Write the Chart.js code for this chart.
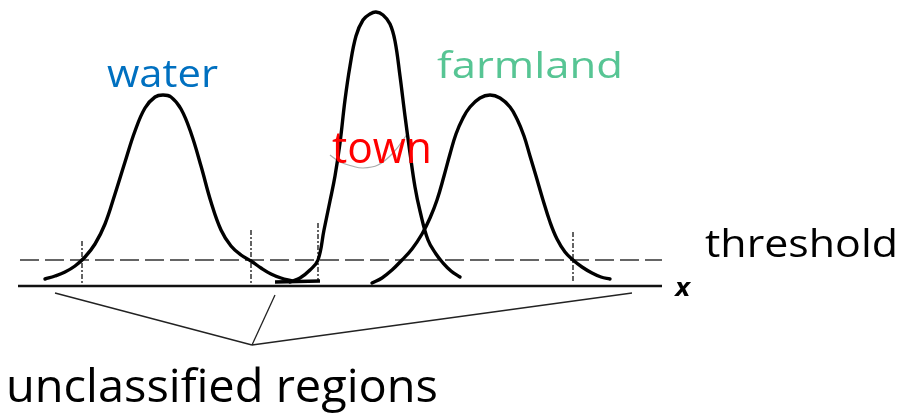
<!DOCTYPE html>
<html>
<head>
<meta charset="utf-8">
<script src="https://cdn.jsdelivr.net/npm/chart.js@4.4.1/dist/chart.umd.min.js"></script>
<style>
  html, body { margin: 0; padding: 0; background: #fff; }
  #wrap { width: 903px; height: 413px; }
</style>
</head>
<body>
<div id="wrap"><canvas id="diagram" width="903" height="413"></canvas></div>
<script>
// x = position along the feature axis, h = height above the x axis
var waterX  = [45, 55, 65, 75, 85, 95, 105, 115, 125, 135, 145, 155, 163, 171, 181, 191, 201, 211, 221, 231, 241, 251, 261, 271, 281, 292];
var waterH  = [7, 10, 14, 20, 29, 42, 62, 92, 124, 155, 178, 189, 191, 189, 177, 153, 120, 84, 56, 40, 31, 25, 18, 12, 8, 5];

var townX   = [290, 300, 310, 318, 324, 330, 335, 340, 345, 350, 356, 363, 370, 376, 383, 390, 395, 400, 405, 410, 415, 420, 428, 436, 443, 451, 460];
var townH   = [4, 8, 16, 26, 56, 85, 110, 143, 186, 220, 250, 266, 272, 274, 271, 262, 245, 210, 170, 133, 99, 75, 46, 32, 23, 15, 9];

var farmX   = [372, 382, 392, 402, 412, 422, 430, 437, 444, 450, 456, 463, 470, 480, 490, 500, 510, 517, 524, 530, 536, 543, 550, 557, 565, 573, 582, 592, 601, 610];
var farmH   = [3, 8, 16, 26, 37, 52, 68, 86, 110, 132, 152, 168, 179, 188, 191, 188, 179, 167, 150, 130, 110, 86, 64, 47, 34, 26, 19, 13, 9, 7];

var flatX   = [275, 320];
var flatH   = [4, 5];

var thresholdX = [20, 662];
var thresholdH = [26, 26];

var axisX = [18, 662];
var axisH = [0, 0];

// dotted cut lines at the threshold crossings
var cutX    = [82, 251, 318, 573];
var cutTop  = [45, 56, 63, 54];
var cutBot  = [2, 2, 5, 3];

// pointers to the unclassified regions
var pointerFrom = [[55, -7], [275, -9], [632, -7]];
var pointerTo   = [252, -59];

// faint arc under "town"
var arcX = [330, 340, 352, 363, 378, 393, 408];
var arcH = [131, 124, 120, 118, 121, 133, 153];

function pts(xs, hs) {
  return xs.map(function (x, i) { return { x: x, y: hs[i] }; });
}

var datasets = [];
function curve(xs, hs) {
  datasets.push({ data: pts(xs, hs), borderColor: '#000', borderWidth: 3.4,
    tension: 0.4, pointRadius: 0, fill: false, borderCapStyle: 'round' });
}
curve(waterX, waterH);
curve(townX, townH);
curve(farmX, farmH);
datasets.push({ data: pts(flatX, flatH), borderColor: '#000', borderWidth: 3.5, pointRadius: 0, tension: 0 });
datasets.push({ data: pts(thresholdX, thresholdH), borderColor: '#333', borderWidth: 1.6,
  borderDash: [19, 6], pointRadius: 0, tension: 0 });
datasets.push({ data: pts(axisX, axisH), borderColor: '#111', borderWidth: 2.5, pointRadius: 0, tension: 0 });
cutX.forEach(function (x, i) {
  datasets.push({ data: [{ x: x, y: cutTop[i] }, { x: x, y: cutBot[i] }], borderColor: '#222',
    borderWidth: 1.4, borderDash: [5, 2, 2, 2], pointRadius: 0, tension: 0 });
});
pointerFrom.forEach(function (p) {
  datasets.push({ data: [{ x: p[0], y: p[1] }, { x: pointerTo[0], y: pointerTo[1] }],
    borderColor: '#222', borderWidth: 1.3, pointRadius: 0, tension: 0 });
});
datasets.push({ data: pts(arcX, arcH), borderColor: '#aaa', borderWidth: 1.2,
  tension: 0.4, pointRadius: 0 });

// labels: text, colour, font size, left x, baseline h, target width
var labels = [
  { text: 'water', color: '#0070C0', size: 38, x: 107, y: 199, w: 111 },
  { text: 'farmland', color: '#57C594', size: 36, x: 437, y: 208, w: 186 },
  { text: 'town', color: '#FF0000', size: 43, x: 332, y: 123, w: 100 },
  { text: 'threshold', color: '#000', size: 38, x: 705, y: 29, w: 193 },
  { text: 'unclassified regions', color: '#000', size: 45, x: 6, y: -116, w: 432 }
];

var labelPlugin = {
  id: 'labels',
  afterDatasetsDraw: function (chart) {
    var ctx = chart.ctx;
    var sx = chart.scales.x, sy = chart.scales.y;
    labels.forEach(function (l) {
      ctx.save();
      ctx.font = l.size + 'px "Open Sans"';
      ctx.fillStyle = l.color;
      ctx.textBaseline = 'alphabetic';
      var m = ctx.measureText(l.text).width;
      var px = sx.getPixelForValue(l.x), py = sy.getPixelForValue(l.y);
      ctx.translate(px, py);
      ctx.scale(l.w / m, 1);
      ctx.fillText(l.text, 0, 0);
      ctx.restore();
    });
    // axis name
    ctx.save();
    ctx.font = 'italic bold 24px "DejaVu Sans"';
    ctx.fillStyle = '#000';
    ctx.fillText('x', sx.getPixelForValue(675), sy.getPixelForValue(-10));
    ctx.restore();
  }
};

new Chart(document.getElementById('diagram'), {
  type: 'line',
  data: { datasets: datasets },
  options: {
    responsive: false,
    animation: false,
    parsing: false,
    layout: { padding: 0 },
    plugins: { legend: { display: false }, tooltip: { enabled: false } },
    scales: {
      x: { type: 'linear', min: 0, max: 903, display: false },
      y: { type: 'linear', min: -127, max: 286, display: false }
    }
  },
  plugins: [labelPlugin]
});
</script>
</body>
</html>
